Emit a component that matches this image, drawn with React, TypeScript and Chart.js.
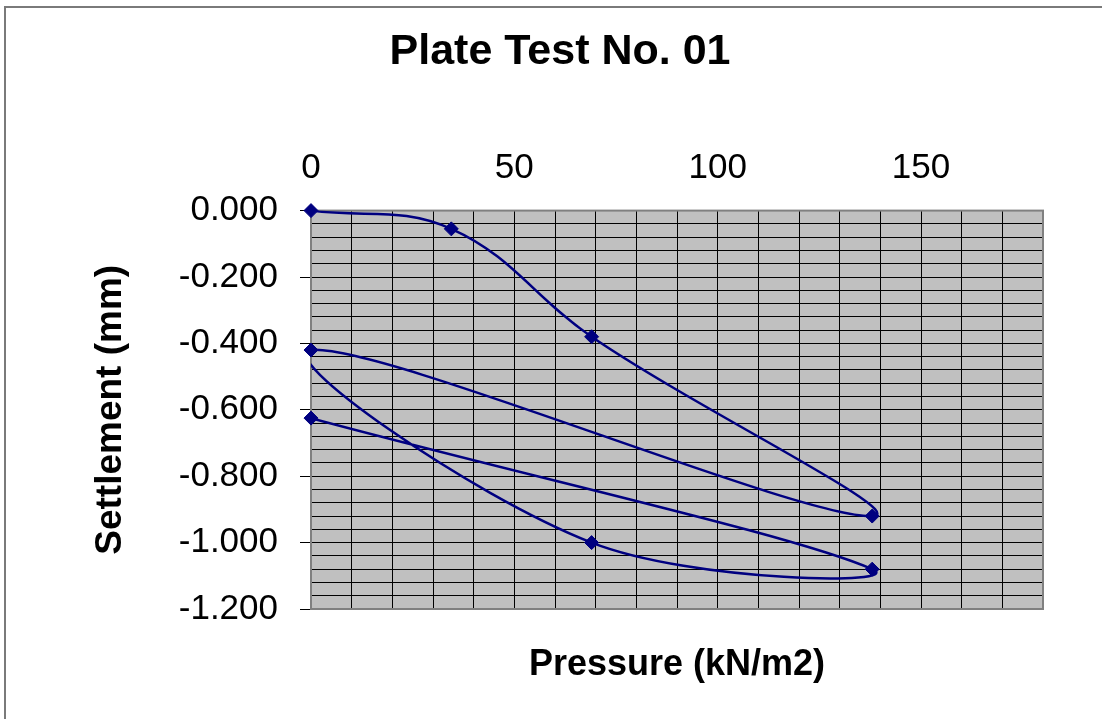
import React, { useEffect, useRef } from "react";
import { Chart, registerables } from "chart.js";

Chart.register(...registerables);

const chartTitle = "Plate Test No. 01";
const xAxisTitle = "Pressure (kN/m2)";
const yAxisTitle = "Settlement (mm)";

// load / unload sequence
const pressure = [0, 34.5, 69, 138, 0, 69, 138, 0];
const settlement = [0, -0.055, -0.38, -0.92, -0.42, -1.0, -1.08, -0.625];

const xMin = 0;
const xMax = 180;
const xStep = 10;
const xLabelEvery = 50;
const yMin = -1.2;
const yMax = 0;
const yStep = 0.04;
const yLabelEvery = 0.2;

const FONT = "'Liberation Sans', Arial, Helvetica, sans-serif";
const NAVY = "#000080";

const isMultiple = (v: number, m: number) => Math.abs(v / m - Math.round(v / m)) < 1e-6;

const framePlugin = {
  id: "frame",
  beforeDraw(chart: any) {
    const { ctx, chartArea: a } = chart;
    ctx.save();
    // outer chart border (left and top visible)
    ctx.strokeStyle = "#7a7a7a";
    ctx.lineWidth = 2;
    ctx.beginPath();
    ctx.moveTo(5, 2000);
    ctx.lineTo(5, 7);
    ctx.lineTo(2000, 7);
    ctx.stroke();
    // plot area fill
    ctx.fillStyle = "#C0C0C0";
    ctx.fillRect(a.left, a.top, a.right - a.left, a.bottom - a.top);
    ctx.restore();
  },
  beforeDatasetsDraw(chart: any) {
    const { ctx, chartArea: a } = chart;
    ctx.save();
    ctx.strokeStyle = "#808080";
    ctx.lineWidth = 2;
    ctx.strokeRect(a.left, a.top, a.right - a.left, a.bottom - a.top);
    ctx.restore();
  },
};

export default function App() {
  const ref = useRef<HTMLCanvasElement | null>(null);

  useEffect(() => {
    if (!ref.current) return;
    const points = pressure.map((x, i) => ({ x, y: settlement[i] }));
    const chart = new Chart(ref.current, {
      type: "scatter",
      data: {
        datasets: [
          {
            label: "curve",
            data: points,
            showLine: true,
            borderColor: NAVY,
            borderWidth: 2.5,
            tension: 0.4,
            pointRadius: 0,
            fill: false,
          } as any,
          {
            label: "points",
            data: points,
            showLine: false,
            pointStyle: "rectRot",
            pointRadius: 7,
            pointBackgroundColor: NAVY,
            pointBorderColor: NAVY,
            pointBorderWidth: 1,
            clip: false,
          } as any,
        ],
      },
      options: {
        animation: false,
        responsive: true,
        maintainAspectRatio: false,
        events: [],
        layout: { padding: { left: 77, right: 59, top: 0, bottom: 0 } },
        elements: { line: { capBezierPoints: false } as any },
        plugins: {
          legend: { display: false },
          tooltip: { enabled: false },
          title: {
            display: true,
            text: chartTitle,
            color: "#000",
            font: { family: FONT, size: 43, weight: "bold" },
            padding: { top: 26, bottom: 10 },
          },
        },
        scales: {
          x: {
            type: "linear",
            position: "top",
            min: xMin,
            max: xMax,
            afterFit: (s: any) => {
              s.height = 123;
            },
            ticks: {
              stepSize: xStep,
              autoSkip: false,
              maxRotation: 0,
              color: "#000",
              padding: 21,
              font: { family: FONT, size: 35 },
              callback: (v: any) => (isMultiple(Number(v), xLabelEvery) ? String(v) : ""),
            },
            grid: { color: "#000", lineWidth: 1, drawTicks: false },
            border: { display: false },
          },
          x2: {
            type: "linear",
            position: "bottom",
            min: xMin,
            max: xMax,
            afterFit: (s: any) => {
              s.height = 110;
            },
            ticks: { display: false },
            grid: { display: false },
            border: { display: false },
            title: {
              display: true,
              text: xAxisTitle,
              color: "#000",
              font: { family: FONT, size: 36, weight: "bold" },
              padding: { top: 30, bottom: 32 },
            },
          },
          y: {
            type: "linear",
            position: "left",
            min: yMin,
            max: yMax,
            afterFit: (s: any) => {
              s.width = 234;
            },
            ticks: {
              stepSize: yStep,
              autoSkip: false,
              color: "#000",
              padding: 22,
              font: { family: FONT, size: 35 },
              callback: (v: any) =>
                isMultiple(Number(v), yLabelEvery) ? Number(v).toFixed(3) : "",
            },
            grid: {
              color: "#000",
              lineWidth: 1,
              drawTicks: true,
              tickLength: 11,
              tickColor: (c: any) =>
                c.tick && isMultiple(c.tick.value, yLabelEvery) ? "#000" : "rgba(0,0,0,0)",
            },
            border: { display: false },
            title: {
              display: true,
              text: yAxisTitle,
              color: "#000",
              font: { family: FONT, size: 37, weight: "bold" },
              padding: { top: 12, bottom: 10 },
            },
          },
        },
      },
      plugins: [framePlugin],
    });
    return () => chart.destroy();
  }, []);

  return (
    <div style={{ position: "absolute", left: 0, top: 0, width: 1102, height: 719, background: "#fff" }}>
      <canvas ref={ref} />
    </div>
  );
}
